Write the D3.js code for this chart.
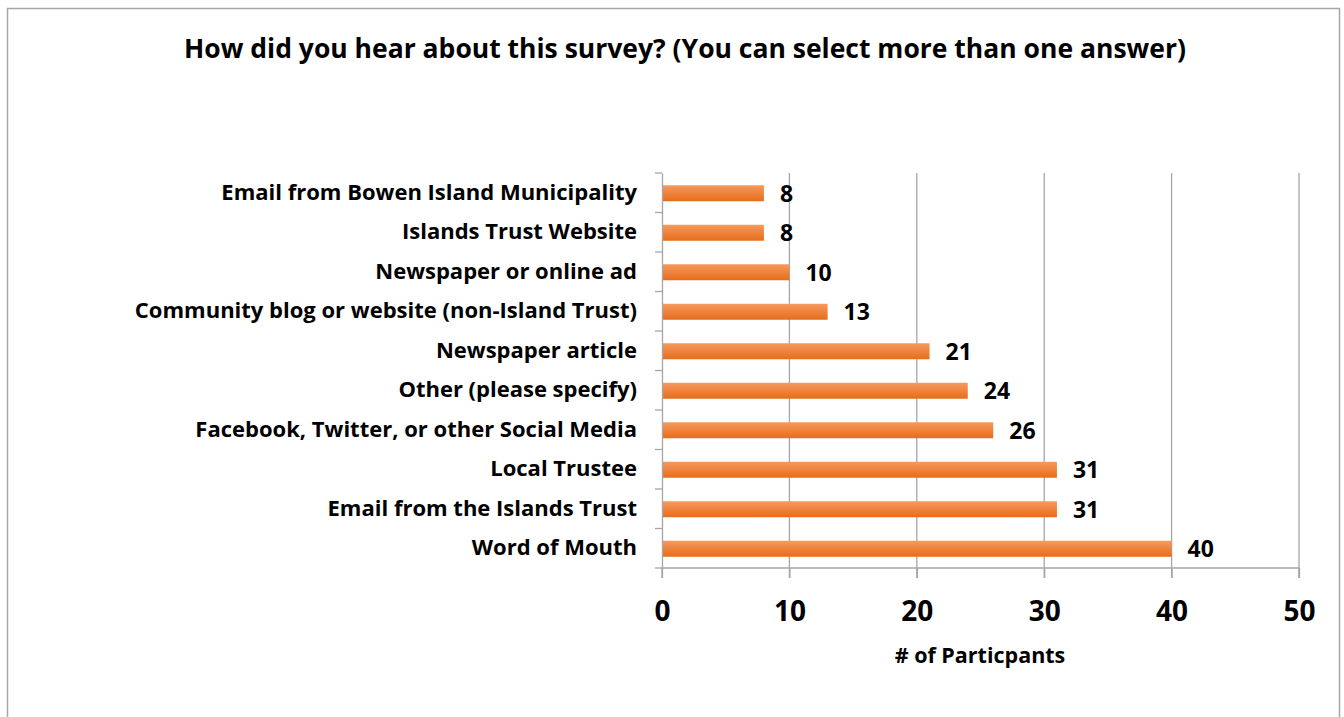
<!DOCTYPE html>
<html><head><meta charset="utf-8">
<script src="https://cdn.jsdelivr.net/npm/d3@7"></script>
<style>body{margin:0;background:#fff;} svg{display:block;} text{font-family:"Open Sans","Liberation Sans",sans-serif;font-weight:bold;fill:#000;}</style>
</head><body>
<svg id="c" width="1344" height="717"></svg>
<script>
const categories = ["Email from Bowen Island Municipality","Islands Trust Website","Newspaper or online ad","Community blog or website (non-Island Trust)","Newspaper article","Other (please specify)","Facebook, Twitter, or other Social Media","Local Trustee","Email from the Islands Trust","Word of Mouth"];
const values = [8,8,10,13,21,24,26,31,31,40];
const xTicks = [0,10,20,30,40,50];
const title = "How did you hear about this survey? (You can select more than one answer)";
const xTitle = "# of Particpants";

const FONT = "'Open Sans','Liberation Sans',sans-serif";
const svg = d3.select("#c");
const defs = svg.append("defs");
const g = defs.append("linearGradient").attr("id","bg").attr("x1",0).attr("y1",0).attr("x2",0).attr("y2",1);
g.append("stop").attr("offset","0%").attr("stop-color","#f59a5e");
g.append("stop").attr("offset","100%").attr("stop-color","#e86c1a");

svg.append("rect").attr("x",7.5).attr("y",8.5).attr("width",1332).attr("height",720).attr("fill","#fff").attr("stroke","#a6a6a6").attr("stroke-width",1.5);

const L=662, R=1299, T=173, B=568;
const x = d3.scaleLinear().domain([0,50]).range([L,R]);
const y = d3.scaleBand().domain(categories).range([T,B]);

svg.append("g").selectAll("line").data(xTicks.slice(1)).join("line")
  .attr("x1",d=>x(d)).attr("x2",d=>x(d)).attr("y1",T).attr("y2",B+10)
  .attr("stroke","#a6a6a6").attr("stroke-width",1.3);

const bh = 16;
svg.append("g").selectAll("rect").data(values).join("rect")
  .attr("x",x(0)).attr("y",(d,i)=>y(categories[i])+y.bandwidth()/2-bh/2+0.5)
  .attr("width",d=>x(d)-x(0)).attr("height",bh).attr("fill","url(#bg)");

const xa = svg.append("g").attr("transform",`translate(0,${B})`)
  .call(d3.axisBottom(x).tickValues(xTicks).tickSize(10).tickPadding(23));
xa.select(".domain").attr("stroke","#a6a6a6").attr("stroke-width",1.3).attr("d",`M${L},10V0H${R}V10`);
xa.selectAll(".tick line").attr("stroke","#a6a6a6").attr("stroke-width",1.3);
xa.selectAll(".tick text").attr("font-size",28).attr("font-family",FONT).attr("font-weight","bold").attr("fill","#000");

const ya = svg.append("g").attr("transform",`translate(${L},0)`)
  .call(d3.axisLeft(y).tickSize(0).tickPadding(25));
ya.select(".domain").attr("stroke","#a6a6a6").attr("stroke-width",1.3);
ya.selectAll(".tick text").attr("font-size",22).attr("font-family",FONT).attr("font-weight","bold").attr("fill","#000");
const yb = d3.range(categories.length+1).map(i=>T+i*y.step());
svg.append("g").selectAll("line").data(yb).join("line")
  .attr("x1",L-7).attr("x2",L).attr("y1",d=>d).attr("y2",d=>d)
  .attr("stroke","#a6a6a6").attr("stroke-width",1.3);

svg.append("g").selectAll("text").data(values).join("text")
  .attr("x",d=>x(d)+16).attr("y",(d,i)=>y(categories[i])+y.bandwidth()/2+9)
  .attr("font-size",23).text(d=>d);

svg.append("text").attr("x",685).attr("y",58).attr("text-anchor","middle").attr("font-size",26.5).text(title);
svg.append("text").attr("x",980).attr("y",663).attr("text-anchor","middle").attr("font-size",21.5).text(xTitle);
</script>
</body></html>
